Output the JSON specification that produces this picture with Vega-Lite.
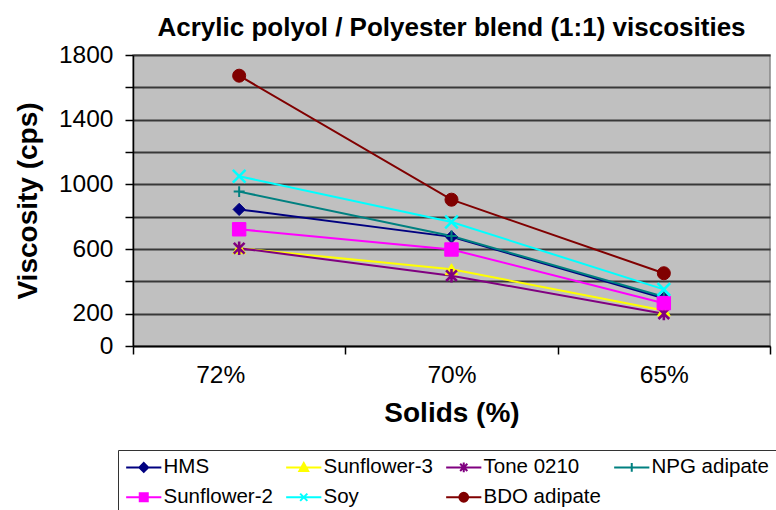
{
  "$schema": "https://vega.github.io/schema/vega-lite/v6.json",
  "width": 637,
  "height": 291,
  "autosize": {"type": "none"},
  "padding": {"left": 133, "top": 55, "right": 6, "bottom": 164},
  "background": "white",
  "title": {"text": "Acrylic polyol / Polyester blend (1:1) viscosities", "anchor": "middle", "frame": "group", "fontSize": 26, "fontWeight": "bold", "font": "Liberation Sans", "color": "black", "baseline": "alphabetic", "offset": 20, "dy": 40},
  "config": {"font": "Liberation Sans", "view": {"fill": "#C0C0C0", "stroke": "#888888", "strokeWidth": 1.5}},
  "data": {"values": [
    {"Solids": "72%", "Sample": "HMS", "Viscosity": 845},
    {"Solids": "70%", "Sample": "HMS", "Viscosity": 675},
    {"Solids": "65%", "Sample": "HMS", "Viscosity": 295},
    {"Solids": "72%", "Sample": "Sunflower-3", "Viscosity": 605},
    {"Solids": "70%", "Sample": "Sunflower-3", "Viscosity": 475},
    {"Solids": "65%", "Sample": "Sunflower-3", "Viscosity": 220},
    {"Solids": "72%", "Sample": "Tone 0210", "Viscosity": 605},
    {"Solids": "70%", "Sample": "Tone 0210", "Viscosity": 435},
    {"Solids": "65%", "Sample": "Tone 0210", "Viscosity": 200},
    {"Solids": "72%", "Sample": "NPG adipate", "Viscosity": 955},
    {"Solids": "70%", "Sample": "NPG adipate", "Viscosity": 680},
    {"Solids": "65%", "Sample": "NPG adipate", "Viscosity": 305},
    {"Solids": "72%", "Sample": "Sunflower-2", "Viscosity": 722},
    {"Solids": "70%", "Sample": "Sunflower-2", "Viscosity": 597},
    {"Solids": "65%", "Sample": "Sunflower-2", "Viscosity": 265},
    {"Solids": "72%", "Sample": "Soy", "Viscosity": 1050},
    {"Solids": "70%", "Sample": "Soy", "Viscosity": 767},
    {"Solids": "65%", "Sample": "Soy", "Viscosity": 350},
    {"Solids": "72%", "Sample": "BDO adipate", "Viscosity": 1672},
    {"Solids": "70%", "Sample": "BDO adipate", "Viscosity": 905},
    {"Solids": "65%", "Sample": "BDO adipate", "Viscosity": 450}
  ]},
  "encoding": {
    "x": {"field": "Solids", "type": "nominal", "sort": ["72%", "70%", "65%"],
      "scale": {"type": "band", "paddingInner": 0, "paddingOuter": 0},
      "axis": {"title": "Solids (%)", "titleFontSize": 28, "titleFontWeight": "bold", "titleColor": "black", "titlePadding": 13,
        "labelFontSize": 24.5, "labelColor": "black", "labelPadding": 9, "labelAngle": 0,
        "labelOffset": {"condition": {"test": "datum.value === '72%'", "value": -19}, "value": 0},
        "tickBand": "extent", "tickSize": 8, "tickColor": "black", "tickWidth": 1.5,
        "domainColor": "black", "domainWidth": 1.5, "grid": false}},
    "y": {"field": "Viscosity", "type": "quantitative",
      "scale": {"domain": [0, 1800], "nice": false},
      "axis": {"title": "Viscosity (cps)", "titleFontSize": 28, "titleFontWeight": "bold", "titleColor": "black", "titlePadding": 16,
        "values": [0, 200, 400, 600, 800, 1000, 1200, 1400, 1600, 1800], "format": "d",
        "labelExpr": "datum.value == 0 || (datum.value - 200) % 400 == 0 ? datum.label : ''",
        "labelOverlap": false, "labelFontSize": 24.5, "labelColor": "black", "labelPadding": 12,
        "tickSize": 8, "tickColor": "black", "tickWidth": 1.5,
        "domainColor": "black", "domainWidth": 1.5,
        "grid": true, "gridColor": "#383838", "gridWidth": 2}}
  },
  "layer": [
    {"mark": {"type": "line", "strokeWidth": 2},
     "encoding": {"color": {"field": "Sample", "type": "nominal",
       "scale": {"range": ["#800000", "#000080", "#008080", "#00FFFF", "#FF00FF", "#FFFF00", "#800080"]},
       "legend": null}}},
    {"transform": [{"filter": {"field": "Sample", "equal": "HMS"}}],
     "mark": {"type": "point", "shape": "diamond", "filled": true, "fill": "#000080", "stroke": "#000080", "strokeWidth": 1, "size": 150, "opacity": 1}},
    {"transform": [{"filter": {"field": "Sample", "equal": "Sunflower-3"}}],
     "mark": {"type": "point", "shape": "triangle-up", "filled": true, "fill": "#FFFF00", "stroke": "#FFFF00", "strokeWidth": 1, "size": 160, "opacity": 1}},
    {"transform": [{"filter": {"field": "Sample", "equal": "Tone 0210"}}],
     "mark": {"type": "point", "shape": "M-0.8,-0.8L0.8,0.8M-0.8,0.8L0.8,-0.8M0,-1V1", "filled": false, "stroke": "#800080", "strokeWidth": 2.6, "size": 180, "opacity": 1}},
    {"transform": [{"filter": {"field": "Sample", "equal": "NPG adipate"}}],
     "mark": {"type": "point", "shape": "M-1,0H1M0,-1V1", "filled": false, "stroke": "#008080", "strokeWidth": 2, "size": 120, "opacity": 1}},
    {"transform": [{"filter": {"field": "Sample", "equal": "Sunflower-2"}}],
     "mark": {"type": "point", "shape": "square", "filled": true, "fill": "#FF00FF", "stroke": "#FF00FF", "strokeWidth": 1, "size": 180, "opacity": 1}},
    {"transform": [{"filter": {"field": "Sample", "equal": "Soy"}}],
     "mark": {"type": "point", "shape": "M-1,-1L1,1M-1,1L1,-1", "filled": false, "stroke": "#00FFFF", "strokeWidth": 2.5, "size": 160, "opacity": 1}},
    {"transform": [{"filter": {"field": "Sample", "equal": "BDO adipate"}}],
     "mark": {"type": "point", "shape": "circle", "filled": true, "fill": "#800000", "stroke": "#800000", "strokeWidth": 1, "size": 170, "opacity": 1}},
    {"transform": [{"filter": "datum.Viscosity < 0"}],
     "mark": {"type": "point", "filled": true, "size": 64, "strokeWidth": 2, "opacity": 1},
     "encoding": {
       "shape": {"field": "Sample", "type": "nominal",
         "scale": {"domain": ["HMS", "Sunflower-3", "Tone 0210", "NPG adipate", "Sunflower-2", "Soy", "BDO adipate"],
                   "range": ["M-4.4,0H4.4M0,-1.1L1.1,0L0,1.1L-1.1,0Z",
                             "M-4.4,0H4.4M0,-1.1L1.1,0.9L-1.1,0.9Z",
                             "M-4.4,0H4.4M-0.9,-0.9L0.9,0.9M-0.9,0.9L0.9,-0.9M0,-1.2V1.2",
                             "M-4.4,0H4.4M0,-1.1V1.1",
                             "M-4.4,0H4.4M-1,-1H1V1H-1Z",
                             "M-4.4,0H4.4M-0.9,-0.9L0.9,0.9M-0.9,0.9L0.9,-0.9",
                             "M-4.4,0H4.4M-1.1,0A1.1,1.1,0,1,0,1.1,0A1.1,1.1,0,1,0,-1.1,0Z"]},
         "legend": {"title": null, "orient": "none", "legendX": -15, "legendY": 395, "direction": "horizontal", "columns": 4, "gridAlign": "each", "columnPadding": 9, "rowPadding": 9, "padding": 7, "strokeColor": "#333333", "fillColor": "white", "labelFontSize": 20.5, "labelColor": "black", "labelFont": "Liberation Sans", "symbolSize": 64, "symbolStrokeWidth": 2, "symbolOffset": 8.5, "labelOffset": 9.5, "symbolOpacity": 1}},
       "fill": {"field": "Sample", "type": "nominal",
         "scale": {"domain": ["HMS", "Sunflower-3", "Tone 0210", "NPG adipate", "Sunflower-2", "Soy", "BDO adipate"],
                   "range": ["#000080", "#FFFF00", "#800080", "#008080", "#FF00FF", "#00FFFF", "#800000"]}},
       "stroke": {"field": "Sample", "type": "nominal",
         "scale": {"domain": ["HMS", "Sunflower-3", "Tone 0210", "NPG adipate", "Sunflower-2", "Soy", "BDO adipate"],
                   "range": ["#000080", "#FFFF00", "#800080", "#008080", "#FF00FF", "#00FFFF", "#800000"]}}
     }}
  ]
}
